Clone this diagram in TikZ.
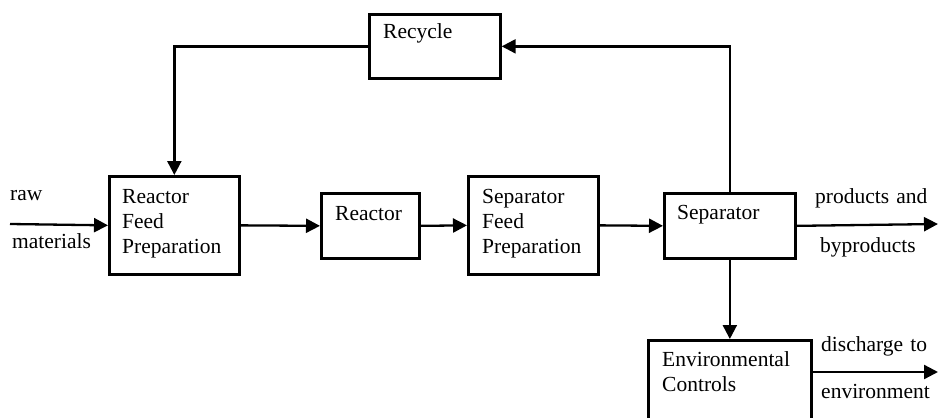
\documentclass[tikz,border=0pt]{standalone}
\usepackage{fontspec}
\setmainfont{Liberation Serif}
\usetikzlibrary{arrows.meta,calc}
\begin{document}
\begin{tikzpicture}[x=1pt,y=-1pt,
  box/.style={draw,line width=2.7pt,rectangle,inner sep=0pt,anchor=north west},
  lbl/.style={anchor=base west,inner sep=0pt,align=left,text width=200pt,
    font=\fontsize{21.5pt}{25pt}\selectfont},
  flow/.style={line width=2.3pt,-{Triangle[length=14pt,width=14pt]}},
  plain/.style={line width=2.3pt}]
\clip (0,0) rectangle (938,418);
\fill[white] (0,0) rectangle (938,418);
% boxes
\node[box,minimum width=131pt,minimum height=64pt] (rec) at (368,13) {};
\node[box,minimum width=130pt,minimum height=98pt] (rfp) at (108,175) {};
\node[box,minimum width=98pt,minimum height=65pt] (rea) at (320,192) {};
\node[box,minimum width=130pt,minimum height=98pt] (sfp) at (467,175) {};
\node[box,minimum width=131pt,minimum height=65pt] (sep) at (663,192) {};
\node[box,minimum width=163pt,minimum height=100pt] (env) at (647,339) {};
% texts
\node[lbl] (trec) at (383,38) {Recycle};
\node[lbl] (trfp) at (122,203) {Reactor\\Feed\\Preparation};
\node[lbl] (trea) at (335,220) {Reactor};
\node[lbl] (tsfp) at (482,203) {Separator\\Feed\\Preparation};
\node[lbl] (tsep) at (677,219) {Separator};
\node[lbl] (tenv) at (662,366) {Environmental\\Controls};
\node[lbl] (traw) at (10,200) {raw};
\node[lbl] (tmat) at (12,248) {materials};
\node[lbl] (tpro) at (815,203) {products and};
\node[lbl] (tbyp) at (820,252) {byproducts};
\node[lbl] (tdis) at (821,351) {discharge to};
\node[lbl] (tenvt) at (821,398) {environment};
% coordinates
\coordinate (rawin) at (10,224);
\coordinate (prodout) at (938,224);
\coordinate (disout) at (938,372);
% connectors
\draw[flow] (rawin) -- (rfp.west);
\draw[flow] (rfp.east) -- (rea.west);
\draw[flow] (rea.east) -- (sfp.west);
\draw[flow] (sfp.east) -- (sep.west);
\draw[flow] (sep.east) -- (prodout);
\draw[flow] (sep.south) -- (env.north);
\draw[flow] (sep.north) |- (rec.east);
\draw[flow] (rec.west) -| (rfp.north);
\draw[flow] (env.east |- disout) -- (disout);
\end{tikzpicture}
\end{document}
